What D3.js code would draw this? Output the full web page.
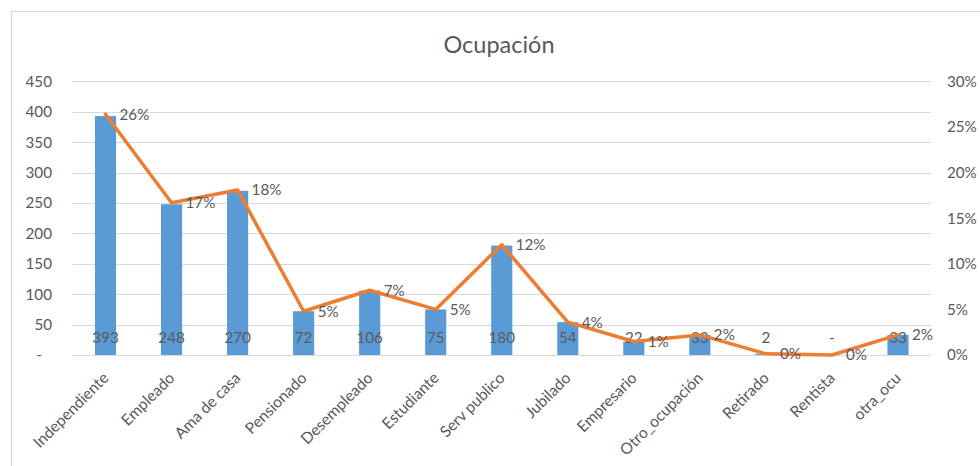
<!DOCTYPE html>
<html>
<head>
<meta charset="utf-8">
<script src="https://cdn.jsdelivr.net/npm/d3@7"></script>
<style>
  html, body { margin: 0; padding: 0; background: #fff; }
  svg { display: block; font-family: Lato, "Open Sans", sans-serif; }
</style>
</head>
<body>
<svg id="chart" width="980" height="466"></svg>
<script>
const categories = ["Independiente", "Empleado", "Ama de casa", "Pensionado", "Desempleado", "Estudiante", "Serv publico", "Jubilado", "Empresario", "Otro_ocupación", "Retirado", "Rentista", "otra_ocu"];
const counts = [393, 248, 270, 72, 106, 75, 180, 54, 22, 33, 2, 0, 33];
const shares = [0.264, 0.167, 0.181, 0.048, 0.071, 0.050, 0.121, 0.036, 0.0148, 0.022, 0.0013, 0.000, 0.022];
const leftTicks = [0, 50, 100, 150, 200, 250, 300, 350, 400, 450];
const rightTicks = [0, 0.05, 0.10, 0.15, 0.20, 0.25, 0.30];
const title = "Ocupación";

const svg = d3.select("#chart");
const W = 980, H = 466;
const plot = { left: 72.5, right: 931, top: 81.4, bottom: 355 };
const textColor = "#595959";
const gridColor = "#d9d9d9";
const barColor = "#5B9BD5";
const lineColor = "#ED7D31";
const fs = "15.2px";

// chart border (top and left visible)
svg.append("rect")
  .attr("x", 11.5).attr("y", 11.5)
  .attr("width", W + 20).attr("height", H + 20)
  .attr("fill", "none").attr("stroke", gridColor).attr("stroke-width", 1.2);

const x = d3.scaleBand().domain(categories).range([plot.left, plot.right]).paddingInner(0.68).paddingOuter(0.34);
const yL = d3.scaleLinear().domain([0, 450]).range([plot.bottom, plot.top]);
const yR = d3.scaleLinear().domain([0, 0.30]).range([plot.bottom, plot.top]);
const cx = d => x(d) + x.bandwidth() / 2;

// gridlines
svg.append("g").selectAll("line").data(leftTicks).join("line")
  .attr("x1", plot.left).attr("x2", plot.right)
  .attr("y1", d => Math.round(yL(d)) + 0.5).attr("y2", d => Math.round(yL(d)) + 0.5)
  .attr("stroke", gridColor).attr("stroke-width", 1);

// left axis
const leftAxis = d3.axisLeft(yL).tickValues(leftTicks).tickSize(0).tickPadding(0)
  .tickFormat(d => d === 0 ? "-" : d3.format("d")(d));
const gL = svg.append("g").attr("transform", "translate(52,0)").call(leftAxis);
gL.select(".domain").remove();
gL.selectAll("text").attr("fill", textColor).attr("font-size", fs).attr("font-family", "Lato");
gL.selectAll(".tick").filter(d => d === 0).select("text").attr("dx", "-10px");

// right axis
const rightAxis = d3.axisRight(yR).tickValues(rightTicks).tickSize(0).tickPadding(0)
  .tickFormat(d3.format(".0%"));
const gR = svg.append("g").attr("transform", "translate(947,0)").call(rightAxis);
gR.select(".domain").remove();
gR.selectAll("text").attr("fill", textColor).attr("font-size", fs).attr("font-family", "Lato");

// bars
svg.append("g").selectAll("rect").data(categories).join("rect")
  .attr("x", d => x(d)).attr("width", x.bandwidth())
  .attr("y", (d, i) => yL(counts[i]))
  .attr("height", (d, i) => plot.bottom - yL(counts[i]))
  .attr("fill", barColor);

// bar value labels (inside base)
svg.append("g").selectAll("text").data(categories).join("text")
  .attr("x", d => cx(d)).attr("y", 342.5)
  .attr("text-anchor", "middle")
  .attr("fill", textColor).attr("font-size", fs)
  .text((d, i) => counts[i] === 0 ? "-" : counts[i]);

// line
const line = d3.line().x((d, i) => cx(categories[i])).y(d => yR(d));
svg.append("path").datum(shares)
  .attr("d", line).attr("fill", "none")
  .attr("stroke", lineColor).attr("stroke-width", 3.5)
  .attr("stroke-linejoin", "round").attr("stroke-linecap", "round");

// line labels
svg.append("g").selectAll("text").data(shares).join("text")
  .attr("x", (d, i) => cx(categories[i]) + 14)
  .attr("y", d => yR(d)).attr("dy", "0.36em")
  .attr("fill", textColor).attr("font-size", fs)
  .text(d => d3.format(".0%")(d));

// category labels
svg.append("g").selectAll("text").data(categories).join("text")
  .attr("transform", d => `translate(${cx(d) + 4},379) rotate(-45)`)
  .attr("text-anchor", "end")
  .attr("fill", textColor).attr("font-size", "15.6px")
  .text(d => d);

// title
svg.append("text")
  .attr("x", 499).attr("y", 53)
  .attr("text-anchor", "middle")
  .attr("fill", textColor).attr("font-size", "23.5px")
  .text(title);
</script>
</body>
</html>
